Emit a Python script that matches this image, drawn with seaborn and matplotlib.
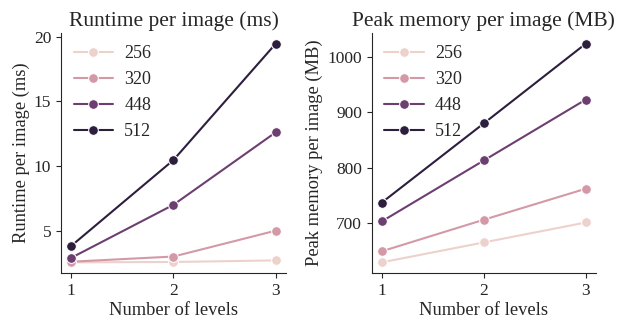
import matplotlib
matplotlib.use("Agg")
import matplotlib.pyplot as plt
import seaborn as sns
import pandas as pd

levels = [1, 2, 3]
resolutions = [256, 320, 448, 512]
runtime_256 = [2.55, 2.58, 2.7]
runtime_320 = [2.6, 3.0, 5.0]
runtime_448 = [2.9, 7.0, 12.6]
runtime_512 = [3.82, 10.46, 19.45]
memory_256 = [629, 665, 701]
memory_320 = [649, 706, 762]
memory_448 = [703, 813, 923]
memory_512 = [737, 880, 1024]

runtime = [runtime_256, runtime_320, runtime_448, runtime_512]
memory = [memory_256, memory_320, memory_448, memory_512]
rows = []
for r, rt, mm in zip(resolutions, runtime, memory):
    for lv, a, b in zip(levels, rt, mm):
        rows.append({"levels": lv, "res": r, "runtime": a, "memory": b})
df = pd.DataFrame(rows)

sns.set_style("ticks")
plt.rcParams["font.family"] = ["Liberation Serif", "DejaVu Serif"]
plt.rcParams["font.size"] = 11

fig = plt.figure(figsize=(6.32, 3.24), dpi=100)
ax1 = fig.add_axes([0.0965, 0.1565, 0.356, 0.7425])
ax2 = fig.add_axes([0.588, 0.1565, 0.355, 0.7425])

specs = [
    (ax1, "runtime", "Runtime per image (ms)", "Runtime per image (ms)"),
    (ax2, "memory", "Peak memory per image (MB)", "Peak memory per image (MB)"),
]
for ax, col, title, ylabel in specs:
    sns.lineplot(data=df, x="levels", y=col, hue="res", marker="o",
                 legend="full", ax=ax, markersize=7, linewidth=1.5)
    handles, labels = ax.get_legend_handles_labels()
    ax.legend(handles, labels, frameon=False, loc="upper left",
              fontsize=13, handlelength=2.2, borderaxespad=0.3,
              labelspacing=0.5, handletextpad=0.6)
    ax.set_title(title, fontsize=15.5, pad=5)
    ax.set_xlabel("Number of levels", fontsize=13.3, labelpad=2)
    ax.set_ylabel(ylabel, fontsize=13.3, labelpad=3)
    ax.set_xticks(levels)
    ax.tick_params(labelsize=12.5)
    sns.despine(ax=ax)

ax1.set_yticks([5, 10, 15, 20])
ax2.set_yticks([700, 800, 900, 1000])

fig.savefig("out.png", dpi=100)
